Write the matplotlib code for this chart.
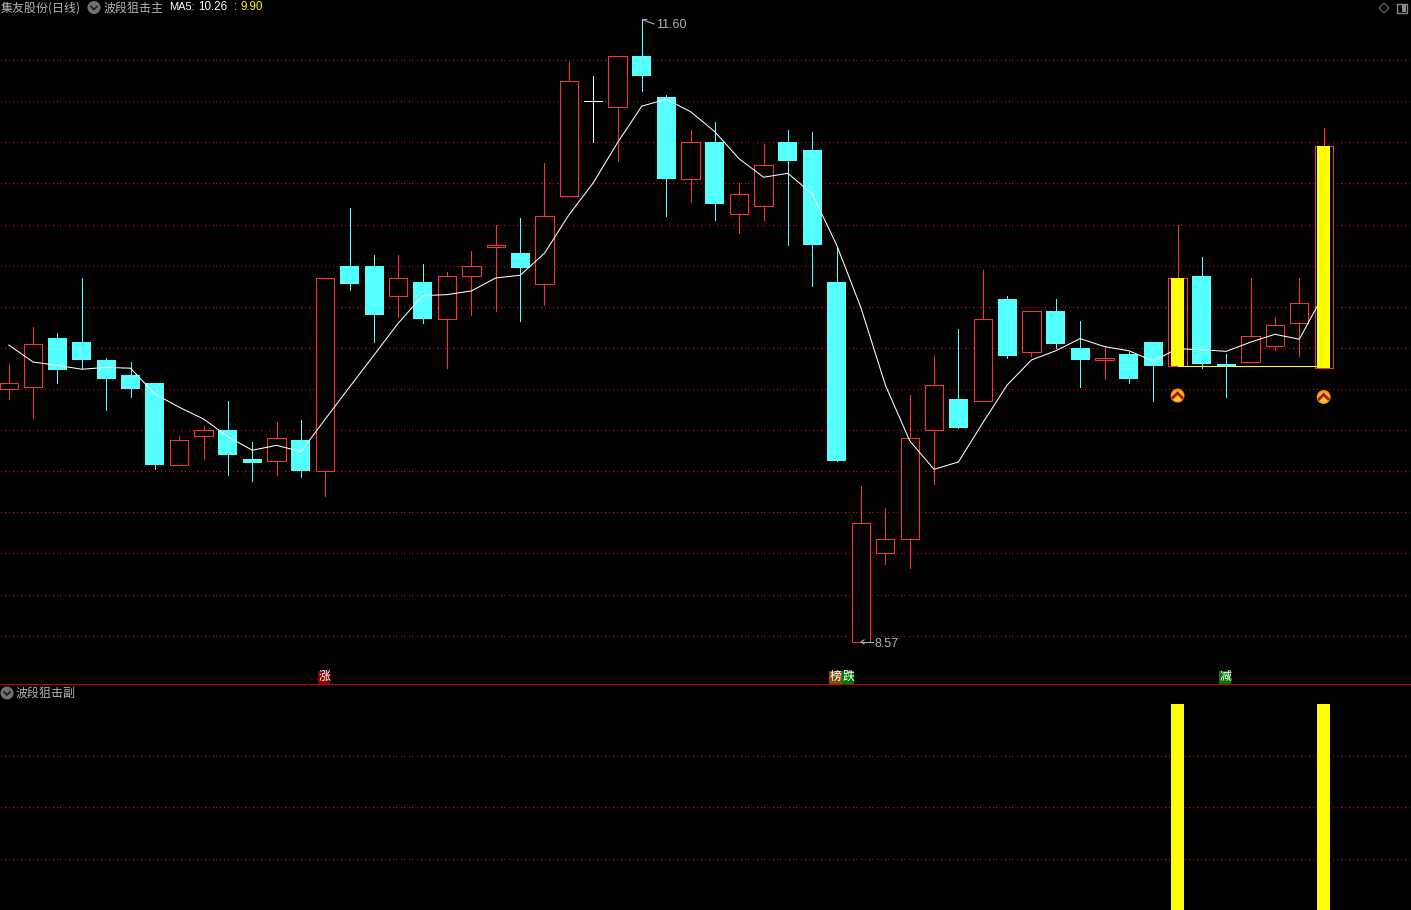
import numpy as np
import matplotlib
matplotlib.use("Agg")
import matplotlib.pyplot as plt
from matplotlib.patches import Circle, Rectangle, Polygon

plt.rcParams['font.family'] = ['Noto Sans CJK SC', 'DejaVu Sans']

# 日K数据
opens = [9.80, 9.81, 10.05, 10.03, 9.94, 9.87, 9.83, 9.43, 9.57, 9.60, 9.46, 9.45, 9.55, 9.40,
         10.40, 10.40, 10.25, 10.32, 10.14, 10.35, 10.49, 10.46, 10.31, 10.74, 11.20, 11.17, 11.42, 11.22,
         10.82, 11.00, 10.65, 10.69, 11.00, 10.96, 10.32, 8.57, 9.00, 9.07, 9.60, 9.75, 9.74, 10.24,
         9.98, 10.18, 10.00, 9.94, 9.97, 10.03, 9.91, 10.35, 9.92, 9.93, 10.01, 10.12, 9.90]
closes = [9.83, 10.02, 9.89, 9.94, 9.85, 9.80, 9.43, 9.55, 9.60, 9.48, 9.44, 9.56, 9.40, 10.34,
          10.31, 10.16, 10.34, 10.14, 10.35, 10.40, 10.50, 10.39, 10.64, 11.30, 11.20, 11.42, 11.32, 10.82,
          11.00, 10.70, 10.75, 10.89, 10.91, 10.50, 9.45, 9.15, 9.07, 9.56, 9.82, 9.61, 10.14, 9.96,
          10.18, 10.02, 9.94, 9.95, 9.85, 9.91, 10.34, 9.92, 9.91, 10.06, 10.11, 10.22, 10.98]
highs = [9.92, 10.10, 10.07, 10.34, 9.95, 9.93, 9.83, 9.57, 9.62, 9.74, 9.54, 9.64, 9.65, 10.34,
         10.68, 10.45, 10.45, 10.41, 10.37, 10.47, 10.60, 10.63, 10.90, 11.39, 11.32, 11.42, 11.60, 11.23,
         11.06, 11.10, 10.80, 10.99, 11.06, 11.05, 10.49, 9.33, 9.22, 9.77, 9.96, 10.09, 10.38, 10.25,
         10.18, 10.24, 10.13, 10.01, 9.98, 10.03, 10.60, 10.44, 9.97, 10.34, 10.15, 10.34, 11.07]
lows = [9.75, 9.66, 9.83, 9.90, 9.70, 9.76, 9.41, 9.43, 9.46, 9.38, 9.35, 9.38, 9.37, 9.28,
        10.28, 10.03, 10.15, 10.12, 9.90, 10.16, 10.18, 10.13, 10.21, 10.74, 11.00, 10.91, 11.25, 10.64,
        10.71, 10.62, 10.56, 10.62, 10.50, 10.30, 9.45, 8.57, 8.95, 8.93, 9.34, 9.61, 9.74, 9.95,
        9.96, 10.00, 9.81, 9.85, 9.83, 9.74, 9.91, 9.90, 9.76, 9.93, 9.99, 9.96, 9.90]
ma5 = [10.014, 9.931, 9.915, 9.896, 9.905, 9.901, 9.776, 9.711, 9.654, 9.568, 9.502, 9.526, 9.495, 9.654,
       9.810, 9.965, 10.121, 10.254, 10.259, 10.277, 10.340, 10.353, 10.460, 10.646, 10.802, 10.998, 11.176, 11.209,
       11.149, 11.051, 10.919, 10.830, 10.849, 10.748, 10.500, 10.194, 9.819, 9.548, 9.409, 9.445, 9.635, 9.819,
       9.941, 9.986, 10.045, 10.006, 9.986, 9.936, 9.996, 9.991, 9.983, 10.028, 10.066, 10.042, 10.260]

# 信号: 第48、54根
signal = [0] * 55
signal[48] = 1
signal[54] = 1
signal_price = 9.91
arrow_prices = [9.768, 9.761]

# 价格网格线
grid_prices = [8.6, 8.8, 9.0, 9.2, 9.4, 9.6, 9.8, 10.0, 10.2, 10.4, 10.6, 10.8, 11.0, 11.2, 11.4]
sub_grid = [0.25, 0.5, 0.75]

# 顶部/底部标记 (K线序号, 文字, 背景色)
tags = [(13, ['涨'], ['#8c0000']), (34, ['榜', '跌'], ['#8a4a10', '#007a00']), (50, ['减'], ['#007a00'])]

RED = '#ff3232'
CYAN = '#54ffff'
YELLOW = '#ffff00'
GRID = '#e60000'
GREY = '#b4b4b4'
LW = 0.7

W, H = 1411, 910
SPLIT = 684.5
fig = plt.figure(figsize=(W / 100, H / 100), dpi=100, facecolor='black')
ax = fig.add_axes([0, (H - SPLIT) / H, 1, SPLIT / H])
ax2 = fig.add_axes([0, 0, 1, (H - SPLIT) / H])

x = np.arange(len(opens))
o = np.array(opens)
c = np.array(closes)
hi = np.array(highs)
lo = np.array(lows)
sig = np.array(signal)
up = c > o
down = c < o
flat = c == o
top = np.maximum(o, c)
bot = np.minimum(o, c)

for a in (ax, ax2):
    a.set_facecolor('black')
    a.set_xlim(-0.36, 57.587)
    a.set_xticks([])
    a.tick_params(left=False, labelleft=False)
    for s in a.spines.values():
        s.set_visible(False)

ax.set_ylim(11.692 - 0.004864 * SPLIT, 11.692)
ax.set_yticks(grid_prices)
ax2.set_ylim(0, 1.095)
ax2.set_yticks(sub_grid)

# 点状网格: 每4像素一个点
dots = np.arange(0.5, W, 4) / W
for a, levels in ((ax, grid_prices), (ax2, sub_grid)):
    for level in levels:
        a.plot(dots, np.full(dots.size, level), 's', ms=0.72, mew=0, color=GRID,
               transform=a.get_yaxis_transform(), antialiased=False, zorder=1)

# 影线
kw = dict(lw=LW, antialiased=False)
ax.vlines(x[up], top[up], hi[up], color=RED, **kw)
ax.vlines(x[up], lo[up], bot[up], color=RED, **kw)
ax.vlines(x[down], lo[down], hi[down], color=CYAN, **kw)
ax.vlines(x[flat], lo[flat], hi[flat], color='white', **kw)
ax.hlines(c[flat], x[flat] - 0.37, x[flat] + 0.37, color='white', **kw)

# 实体
ax.bar(x[up], (c - o)[up], bottom=o[up], width=0.75, facecolor='black', edgecolor=RED,
       linewidth=LW, antialiased=False, zorder=2)
ax.bar(x[down], (o - c)[down], bottom=c[down], width=0.78, color=CYAN, antialiased=False, zorder=2)

# MA5
ax.plot(x, ma5, color='white', lw=0.75, zorder=3)

# 信号柱
on = sig == 1
ax.hlines(signal_price, x[on][0], x[on][-1], color=YELLOW, lw=LW, antialiased=False, zorder=4)
ax.bar(x[on], (c - o)[on], bottom=o[on], width=0.534, color=YELLOW, antialiased=False, zorder=5)
ax2.bar(x[on], sig[on], width=0.534, color=YELLOW, antialiased=False, zorder=5)


# 以下为像素定位的界面元素
def overlay():
    o_ax = fig.add_axes([0, 0, 1, 1], facecolor='none')
    o_ax.set_xlim(0, W)
    o_ax.set_ylim(H, 0)
    o_ax.axis('off')
    return o_ax


ui = overlay()
to_px = lambda a, px, py: ui.transData.inverted().transform(a.transData.transform((px, py)))


def icon(cx, cy):
    ui.add_patch(Circle((cx, cy), 6.5, facecolor='#707070', edgecolor='none'))
    ui.plot([cx - 3, cx, cx + 3], [cy - 1, cy + 2, cy - 1], color='#1a1a1a', lw=1.2)


# 上涨箭头图标
for i, price in zip(x[on], arrow_prices):
    cx, cy = to_px(ax, i, price)
    for r, col in [(7.0, '#f09018'), (5.8, '#f8b020'), (4.4, '#fcd030')]:
        ui.add_patch(Circle((cx, cy + (7.0 - r) * 0.35), r, facecolor=col, edgecolor='none'))
    ui.plot([cx - 4.5, cx, cx + 4.5], [cy + 2.0, cy - 2.5, cy + 2.0], color='#b01010', lw=2.0, solid_joinstyle='miter')

# 高低点标注
px_hi = to_px(ax, x[np.argmax(hi)], hi.max())
px_lo = to_px(ax, x[np.argmin(lo)], lo.min())
ui.plot([px_hi[0] + 1, px_hi[0] + 12], [px_hi[1] + 1, px_hi[1] + 5], color=GREY, lw=0.8)
ui.plot([px_hi[0] + 1, px_hi[0] + 5], [px_hi[1] + 1, px_hi[1] + 0.5], color=GREY, lw=0.8)
ui.text(px_hi[0] + 14, px_hi[1] + 6, f'{hi.max():.2f}', color=GREY, fontsize=9, va='center', family='Liberation Sans')
ui.plot([px_lo[0], px_lo[0] + 12], [px_lo[1], px_lo[1]], color=GREY, lw=0.8)
ui.plot([px_lo[0] + 3, px_lo[0], px_lo[0] + 3], [px_lo[1] - 2, px_lo[1], px_lo[1] + 2], color=GREY, lw=0.8)
ui.text(px_lo[0] + 13, px_lo[1] + 2, f'{lo.min():.2f}', color=GREY, fontsize=9, va='center', family='Liberation Sans')

# 分隔线
ui.add_patch(Rectangle((0, 684), W, 1, facecolor='#c80000', edgecolor='none', antialiased=False))

# 顶部标题
ui.text(1, 8, '集友股份(日线)', color=GREY, fontsize=8.64, va='center')
icon(94, 7.5)
ui.text(104, 8, '波段狙击主', color=GREY, fontsize=8.64, va='center')
ui.text(169.5, 7.5, 'MA5:', color='white', fontsize=8.0, va='center', family='Liberation Sans')
ui.text(198.5, 7.5, '10.26', color='white', fontsize=8.4, va='center', family='Liberation Sans')
ui.text(234, 7.5, ':', color=YELLOW, fontsize=8.4, va='center', family='Liberation Sans')
ui.text(240.5, 7.5, '9.90', color=YELLOW, fontsize=8.4, va='center', family='Liberation Sans')
icon(7, 693)
ui.text(16, 693, '波段狙击副', color=GREY, fontsize=8.64, va='center')

# 右上角小图标
ui.add_patch(Polygon([(1384, 3), (1389, 8), (1384, 13), (1379, 8)], closed=True, facecolor='none', edgecolor='#6e6e6e', lw=0.8))
ui.add_patch(Rectangle((1397, 3.5), 10, 9.5, facecolor='none', edgecolor='#8a8a8a', lw=1.0))
ui.add_patch(Rectangle((1402, 5), 3.5, 6.5, facecolor='#8a8a8a', edgecolor='none'))

# 涨跌标记
for i, labels, cols in tags:
    cx = to_px(ax, i, 10)[0] - 1.0
    for k, (label, col) in enumerate(zip(labels, cols)):
        ui.add_patch(Rectangle((cx - 6.5 + k * 12.5, 670.5), 12.6, 13, facecolor=col, edgecolor='none'))
        ui.text(cx + k * 12.5, 676.5, label, color='white', fontsize=8.6, ha='center', va='center')

fig.savefig('out.png', dpi=100, facecolor='black')
